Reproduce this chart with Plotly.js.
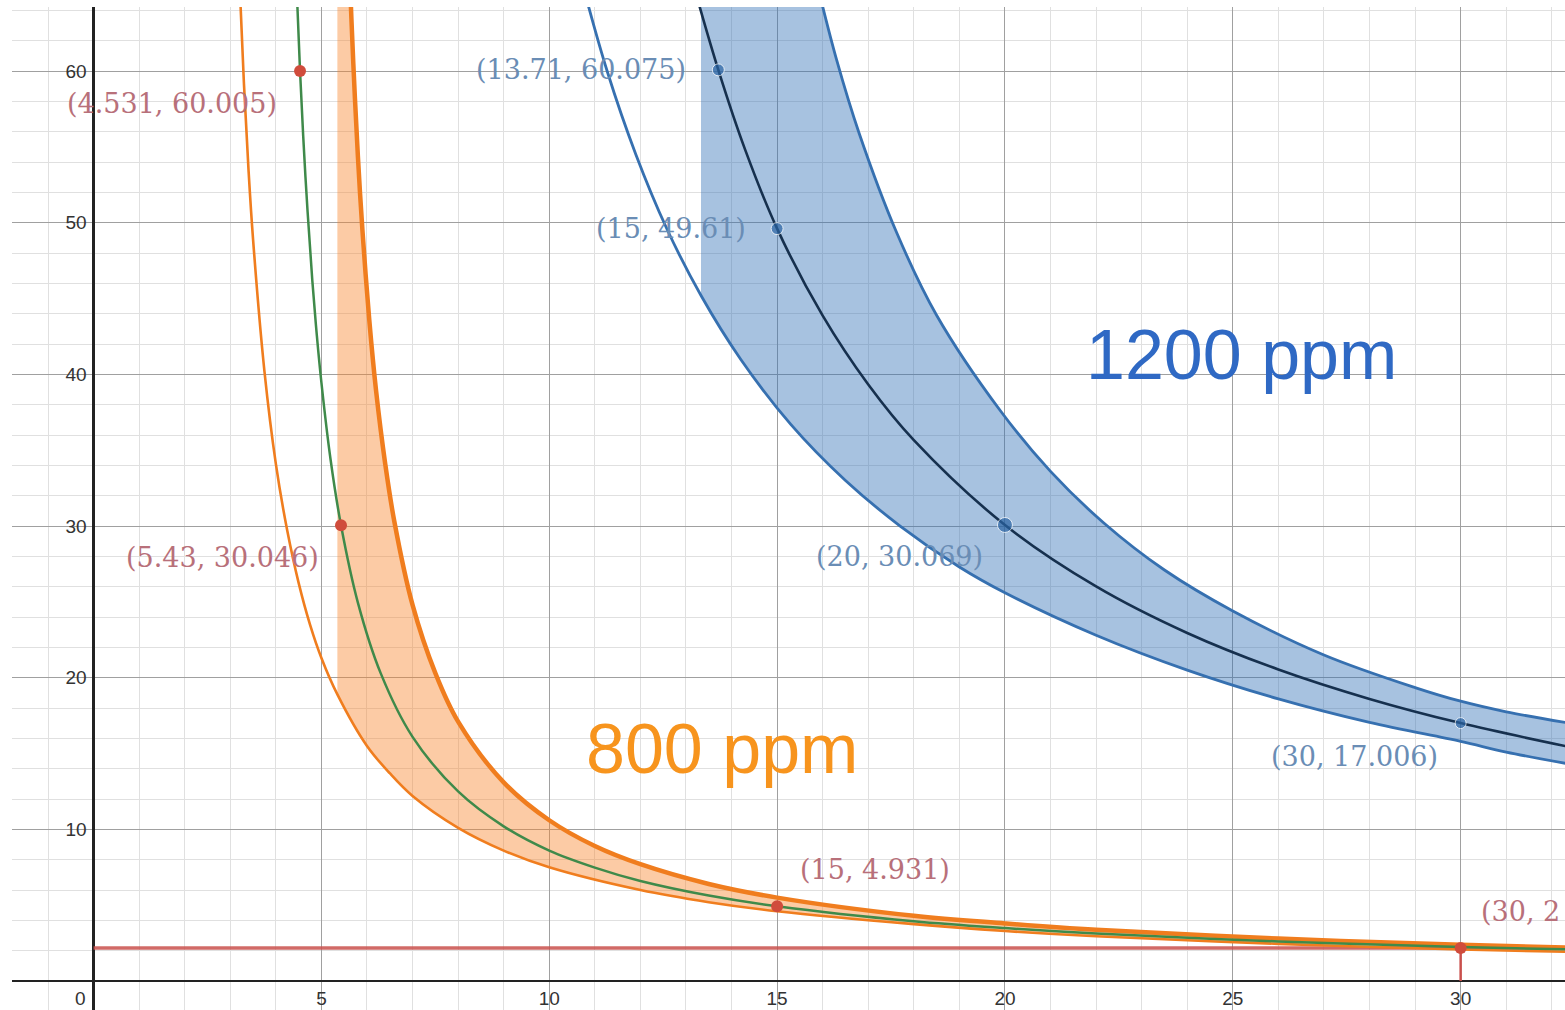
<!DOCTYPE html>
<html>
<head>
<meta charset="utf-8">
<script src="https://cdn.plot.ly/plotly-3.0.1.min.js"></script>
<style>html,body{margin:0;padding:0;overflow:hidden;background:#fff}#chart{width:1565px;height:1010px}</style>
</head>
<body>
<div id="chart"></div>
<script>
// ---- data ----
const xTickVals = [5, 10, 15, 20, 25, 30];
const yTickVals = [10, 20, 30, 40, 50, 60];
const originLabel = '0';

// 800 ppm band: lower (thin) boundary, middle (green) curve, upper (thick) boundary
const orangeLowX = [3.2, 3.3, 3.4, 3.5, 3.75, 4.0, 4.25, 4.5, 4.75, 5.0, 5.35, 6.0, 6.5, 7, 8, 9, 10, 12, 13.5, 15, 18, 20, 22, 26, 30, 32.4];
const orangeLowY = [66.1, 59.15, 53.5, 48.9, 40.2, 34.1, 29.7, 26.25, 23.5, 21.3, 18.9, 15.5, 13.7, 12.2, 10.1, 8.6, 7.5, 6.0, 5.2, 4.6, 3.75, 3.3, 2.95, 2.45, 2.08, 1.92];
const greenX = [4.45, 4.531, 4.65, 4.8, 4.9, 5.0, 5.2, 5.43, 5.8, 6.3, 7, 8, 9, 10, 11, 12, 13.5, 15, 18, 20, 22, 26, 30, 32.4];
const greenY = [65.95, 60.005, 53.0, 46.2, 42.55, 39.45, 34.4, 30.046, 24.95, 20.3, 16.1, 12.5, 10.2, 8.6, 7.48, 6.6, 5.64, 4.931, 3.94, 3.49, 3.13, 2.61, 2.245, 2.08];
const orangeHighX = [5.55, 5.62, 5.7, 5.8, 5.9, 6.05, 6.2, 6.4, 6.6, 7, 7.5, 8, 9, 10, 11, 12, 13.5, 15, 18, 20, 22, 26, 30, 32.4];
const orangeHighY = [72.5, 66.4, 60.5, 54.4, 49.5, 43.6, 38.9, 34.1, 30.3, 24.8, 20.3, 17.1, 13.1, 10.6, 8.9, 7.7, 6.4, 5.5, 4.3, 3.8, 3.38, 2.8, 2.4, 2.2];
const orangeFillStartX = 5.35;

// 1200 ppm band: lower boundary, middle (dark) curve, upper boundary
const blueLowX = [10.7, 11.27, 11.9, 12.58, 13.33, 14.2, 15.3, 16.5, 17.7, 19, 20, 22, 24, 26, 28, 30, 31, 32.4];
const blueLowY = [66.05, 60.0, 54.5, 49.6, 45.2, 41.0, 36.7, 33.0, 30.0, 27.3, 25.6, 22.8, 20.5, 18.6, 17.05, 15.8, 15.1, 14.3];
const blueMidX = [13.2, 13.71, 14.3, 15, 16, 17, 18, 20, 22, 24, 26, 28, 30, 32.4];
const blueMidY = [65.3, 60.075, 54.8, 49.61, 43.87, 39.33, 35.66, 30.069, 26.02, 22.95, 20.54, 18.6, 17.006, 15.43];
const blueHighX = [15.55, 15.8, 15.9, 16.3, 16.8, 17.63, 18.5, 19.9, 21, 22.17, 23.5, 25, 27, 29, 30, 31, 32.4];
const blueHighY = [70.1, 66.7, 65.45, 60.8, 55.9, 49.3, 43.9, 37.6, 33.6, 30.2, 27.1, 24.4, 21.5, 19.35, 18.45, 17.75, 17.0];
const blueFillStartX = 13.33;

// horizontal reference line and marker at x = 30
const refLineX = [0, 32.4];
const refLineY = [2.18, 2.18];
const refDropX = [30, 30];
const refDropY = [0, 2.18];

// labelled points
const redPtX = [4.531, 5.43, 15, 30];
const redPtY = [60.005, 30.046, 4.931, 2.18];
const redPtText = ['(4.531, 60.005)', '(5.43, 30.046)', '(15, 4.931)', '(30, 2'];
const bluePtX = [13.71, 15, 20, 30];
const bluePtY = [60.075, 49.61, 30.069, 17.006];
const bluePtText = ['(13.71, 60.075)', '(15, 49.61)', '(20, 30.069)', '(30, 17.006)'];

const bigLabels = ['1200 ppm', '800 ppm'];
const bigLabelX = [25.18, 13.79];
const bigLabelY = [41.3, 15.3];

// ---- styling / layout ----
const ORANGE = '#f07d1e';
const GREEN = '#3f8a4a';
const BLUE = '#3670b0';
const NAVY = '#16304e';
const RED = '#c9504c';

function fromStart(xs, ys, x0) {
  const ox = [], oy = [];
  for (let i = 0; i < xs.length; i++) if (xs[i] >= x0) { ox.push(xs[i]); oy.push(ys[i]); }
  return {x: ox, y: oy};
}

const oLow = fromStart(orangeLowX, orangeLowY, orangeFillStartX);
const bLow = fromStart(blueLowX, blueLowY, blueFillStartX);

const traces = [
  // orange band fill
  {x: oLow.x, y: oLow.y, mode: 'lines', line: {width: 0, shape: 'spline'}, hoverinfo: 'skip', showlegend: false},
  {x: [orangeFillStartX].concat(orangeHighX), y: [orangeHighY[0]].concat(orangeHighY), mode: 'lines',
   line: {width: 0, shape: 'spline'}, fill: 'tonexty', fillcolor: 'rgba(247,132,40,0.42)', hoverinfo: 'skip', showlegend: false},
  // blue band fill
  {x: bLow.x, y: bLow.y, mode: 'lines', line: {width: 0, shape: 'spline'}, hoverinfo: 'skip', showlegend: false},
  {x: [blueFillStartX].concat(blueHighX), y: [blueHighY[0]].concat(blueHighY), mode: 'lines',
   line: {width: 0, shape: 'spline'}, fill: 'tonexty', fillcolor: 'rgba(45,110,180,0.42)', hoverinfo: 'skip', showlegend: false},
  // red reference
  {x: refLineX, y: refLineY, mode: 'lines', line: {color: RED, width: 3.5}, opacity: 0.85, showlegend: false},
  {x: refDropX, y: refDropY, mode: 'lines', line: {color: RED, width: 2.5}, showlegend: false},
  // curves
  {x: orangeLowX, y: orangeLowY, mode: 'lines', line: {color: ORANGE, width: 2.6, shape: 'spline'}, showlegend: false},
  {x: orangeHighX, y: orangeHighY, mode: 'lines', line: {color: ORANGE, width: 4.5, shape: 'spline'}, showlegend: false},
  {x: greenX, y: greenY, mode: 'lines', line: {color: GREEN, width: 2.5, shape: 'spline'}, showlegend: false},
  {x: blueLowX, y: blueLowY, mode: 'lines', line: {color: BLUE, width: 2.8, shape: 'spline'}, showlegend: false},
  {x: blueHighX, y: blueHighY, mode: 'lines', line: {color: BLUE, width: 2.8, shape: 'spline'}, showlegend: false},
  {x: blueMidX, y: blueMidY, mode: 'lines', line: {color: NAVY, width: 2.6, shape: 'spline'}, showlegend: false},
  // points
  {x: redPtX, y: redPtY, mode: 'markers', marker: {color: '#d04c3c', size: 12}, showlegend: false},
  {x: bluePtX, y: bluePtY, mode: 'markers', marker: {color: '#2a64a3', size: [12, 12, 15, 11]}, showlegend: false}
];

const labelFont = {family: 'DejaVu Serif, Liberation Serif, serif', size: 27};
const redShift = [[-128, -33], [-119, -32], [98, 37], [18, 36]];
const blueShift = [[-137, 0], [-106, 0], [-105, -32], [-106, -33]];
const annotations = [];
redPtText.forEach((t, i) => annotations.push({
  x: redPtX[i], y: redPtY[i], xref: 'x', yref: 'y', text: t, showarrow: false,
  xanchor: i === 3 ? 'left' : 'center', yanchor: 'middle',
  xshift: redShift[i][0], yshift: redShift[i][1],
  font: Object.assign({color: '#b8707a'}, labelFont)
}));
bluePtText.forEach((t, i) => annotations.push({
  x: bluePtX[i], y: bluePtY[i], xref: 'x', yref: 'y', text: t, showarrow: false,
  xanchor: 'center', yanchor: 'middle',
  xshift: blueShift[i][0], yshift: blueShift[i][1],
  font: Object.assign({color: '#6a8db5'}, labelFont)
}));
annotations.push({x: bigLabelX[0], y: bigLabelY[0], xref: 'x', yref: 'y', text: bigLabels[0], showarrow: false,
  font: {family: 'Liberation Sans, Arial, sans-serif', size: 70, color: '#2f69c4'}});
annotations.push({x: bigLabelX[1], y: bigLabelY[1], xref: 'x', yref: 'y', text: bigLabels[1], showarrow: false,
  font: {family: 'Liberation Sans, Arial, sans-serif', size: 70, color: '#f7941d'}});
annotations.push({x: 0, y: 0, xref: 'x', yref: 'y', text: originLabel, showarrow: false,
  xshift: -13, yshift: -17, font: {family: 'Liberation Sans, Arial, sans-serif', size: 19, color: '#333'}});

const xr = [-1.79, 32.29], yr = [-1.91, 64.22];
const tickFont = {family: 'Liberation Sans, Arial, sans-serif', size: 19, color: '#333'};
const layout = {
  width: 1565, height: 1010,
  margin: {l: 12, r: 0, t: 7, b: 0, pad: 0},
  paper_bgcolor: '#fff', plot_bgcolor: '#fff',
  xaxis: {
    range: xr, tickmode: 'array', tickvals: xTickVals, ticktext: xTickVals.map(String),
    showgrid: true, gridcolor: '#a0a0a0', gridwidth: 1,
    minor: {dtick: 1, tick0: 0, showgrid: true, gridcolor: '#e0e0e0', gridwidth: 1},
    zeroline: true, zerolinecolor: '#222', zerolinewidth: 2.2,
    showline: false, ticks: '', anchor: 'free', position: (0 - yr[0]) / (yr[1] - yr[0]),
    ticklabelstandoff: 4, tickfont: tickFont
  },
  yaxis: {
    range: yr, tickmode: 'array', tickvals: yTickVals, ticktext: yTickVals.map(String),
    showgrid: true, gridcolor: '#a0a0a0', gridwidth: 1,
    minor: {dtick: 2, tick0: 0, showgrid: true, gridcolor: '#e0e0e0', gridwidth: 1},
    zeroline: true, zerolinecolor: '#222', zerolinewidth: 2.2,
    showline: false, ticks: '', anchor: 'free', position: (0 - xr[0]) / (xr[1] - xr[0]),
    ticklabelstandoff: 7, tickfont: tickFont
  },
  annotations: annotations,
  showlegend: false
};

Plotly.newPlot('chart', traces, layout, {displayModeBar: false, staticPlot: true});
</script>
</body>
</html>
